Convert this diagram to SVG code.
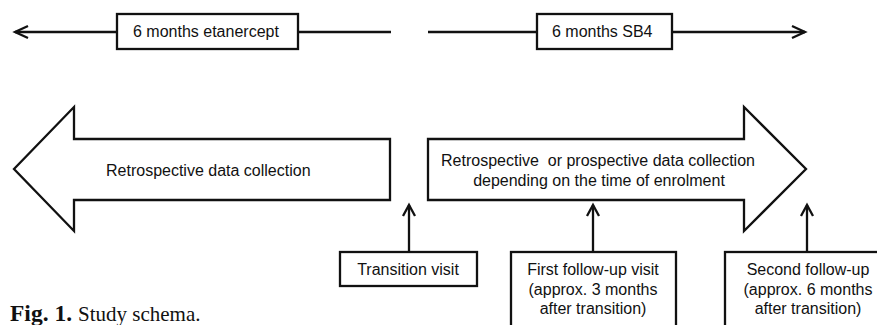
<svg xmlns="http://www.w3.org/2000/svg" width="877" height="325" viewBox="0 0 877 325">
<style>
.ln{stroke:#111;stroke-width:2.3;fill:none}
.bx{stroke:#111;stroke-width:2.3;fill:#fff}
.t{font-family:"Liberation Sans",Arial,sans-serif;font-size:16px;fill:#111}
.m{text-anchor:middle}
</style>
<rect width="877" height="325" fill="#fff"/>
<g id="connectors">
<line class="ln" x1="15" y1="32" x2="117" y2="32"/>
<polyline class="ln" points="28,26 15,32 28,38"/>
<line class="ln" x1="298" y1="32" x2="391" y2="32"/>
<line class="ln" x1="428" y1="32" x2="537" y2="32"/>
<line class="ln" x1="672" y1="32" x2="805" y2="32"/>
<polyline class="ln" points="792,26 805,32 792,38"/>
<line class="ln" x1="409" y1="205" x2="409" y2="252"/>
<polyline class="ln" points="403,216 409,205 415,216"/>
<line class="ln" x1="593" y1="205" x2="593" y2="252"/>
<polyline class="ln" points="587,216 593,205 599,216"/>
<line class="ln" x1="807" y1="205" x2="807" y2="252"/>
<polyline class="ln" points="801,216 807,205 813,216"/>
</g>
<g id="etanercept">
<rect class="bx" x="117" y="14" width="181" height="35"/>
<text class="t" x="133" y="37">6 months etanercept</text>
</g>
<g id="sb4">
<rect class="bx" x="537" y="14" width="135" height="35"/>
<text class="t" x="552" y="37">6 months SB4</text>
</g>
<g id="retro">
<polygon class="bx" points="14,169 74,107 74,139 390,139 390,200 74,200 74,231"/>
<text class="t" x="106" y="176">Retrospective data collection</text>
</g>
<g id="prosp">
<polygon class="bx" points="428,139 744,139 744,107 806,169 744,231 744,200 428,200"/>
<text class="t m" x="598" y="166" style="white-space:pre">Retrospective  or prospective data collection</text>
<text class="t m" x="599" y="186">depending on the time of enrolment</text>
</g>
<g id="transition">
<rect class="bx" x="340" y="252" width="137" height="34"/>
<text class="t m" x="408" y="275">Transition visit</text>
</g>
<g id="first">
<rect class="bx" x="511" y="252" width="165" height="90"/>
<text class="t m" x="593" y="275">First follow-up visit</text>
<text class="t m" x="593" y="294.5">(approx. 3 months</text>
<text class="t m" x="593" y="314">after transition)</text>
</g>
<g id="second">
<rect class="bx" x="725" y="252" width="170" height="90"/>
<text class="t m" x="808" y="275">Second follow-up</text>
<text class="t m" x="808" y="294.5">(approx. 6 months</text>
<text class="t m" x="808" y="314">after transition)</text>
</g>
<text x="10" y="321" style="font-family:'Liberation Serif','Times New Roman',serif;font-size:21px;fill:#111"><tspan font-weight="bold" font-size="23.5px">Fig. 1.</tspan><tspan x="78">Study schema.</tspan></text>
</svg>
